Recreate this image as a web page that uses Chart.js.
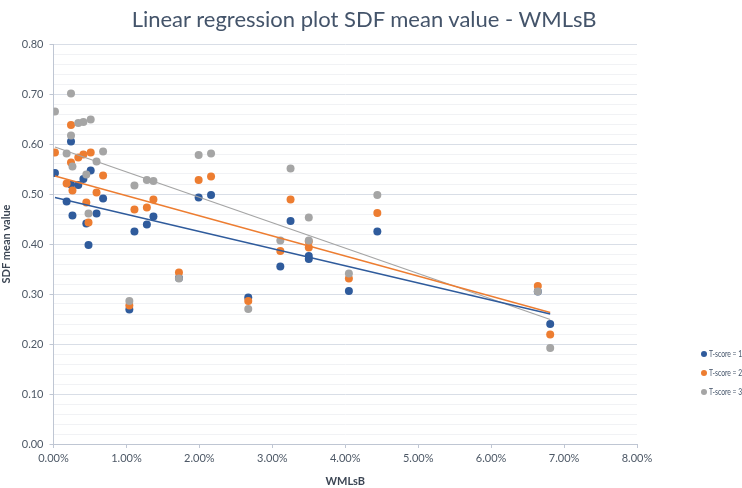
<!DOCTYPE html>
<html>
<head>
<meta charset="utf-8">
<script src="https://cdn.jsdelivr.net/npm/chart.js@4/dist/chart.umd.min.js"></script>
<style>
  html, body { margin: 0; padding: 0; background: #ffffff; overflow: hidden; }
  #wrap { position: relative; width: 742px; height: 488px; overflow: hidden; }
  #title { position: absolute; left: 0; width: 728px; top: 5px; text-align: center; font-family: Lato, "Open Sans", sans-serif; font-size: 22px; font-weight: 400; color: #44546a; white-space: nowrap; }
  #legend { position: absolute; left: 701px; top: 347px; font-family: Lato, "Open Sans", sans-serif; font-size: 9px; color: #44546a; width: 60px; }
  #legend div { height: 19px; line-height: 14px; white-space: nowrap; }
  #legend span.dot { display: inline-block; width: 6px; height: 6px; border-radius: 50%; margin-right: 2px; vertical-align: 0px; }
  #legend span.txt { display: inline-block; transform: scaleX(0.75); transform-origin: 0 50%; }
</style>
</head>
<body>
<div id="wrap">
  <canvas id="c" width="742" height="488"></canvas>
  <div id="title">Linear regression plot SDF mean value - WMLsB</div>
  <div id="legend"></div>
</div>
<script>
// WMLsB (%) for each observation
const wmlsb = [0.02, 0.18, 0.24, 0.24, 0.26, 0.34, 0.41, 0.45, 0.48, 0.51, 0.59, 0.68,
               1.04, 1.11, 1.28, 1.37, 1.72, 1.99, 2.16, 2.67, 3.11, 3.25, 3.50, 3.50,
               4.05, 4.44, 6.64, 6.81];
const tscore1 = [0.542, 0.485, 0.605, 0.519, 0.457, 0.518, 0.530, 0.441, 0.398, 0.547, 0.461, 0.491,
                 0.269, 0.425, 0.439, 0.455, 0.332, 0.493, 0.498, 0.293, 0.355, 0.446, 0.376, 0.370,
                 0.306, 0.425, 0.305, 0.240];
const tscore2 = [0.583, 0.521, 0.638, 0.563, 0.507, 0.573, 0.579, 0.483, 0.443, 0.583, 0.503, 0.537,
                 0.277, 0.469, 0.473, 0.489, 0.343, 0.528, 0.535, 0.286, 0.386, 0.489, 0.393, 0.405,
                 0.331, 0.462, 0.316, 0.219];
const tscore3 = [0.665, 0.581, 0.701, 0.617, 0.555, 0.642, 0.644, 0.539, 0.461, 0.649, 0.565, 0.585,
                 0.286, 0.517, 0.528, 0.526, 0.331, 0.578, 0.581, 0.270, 0.407, 0.551, 0.407, 0.453,
                 0.341, 0.498, 0.305, 0.192];
// trendline endpoints
const trendX = [0.02, 6.81];
const trend1 = [0.493, 0.260];
const trend2 = [0.536, 0.263];
const trend3 = [0.594, 0.249];
const seriesNames = ['T-score = 1', 'T-score = 2', 'T-score = 3'];
const yTicks = [0.0, 0.1, 0.2, 0.3, 0.4, 0.5, 0.6, 0.7, 0.8];
const xTicks = [0, 1, 2, 3, 4, 5, 6, 7, 8];

const colors = ['#2f5b9c', '#ed7d31', '#a5a5a5'];
const seriesVals = [tscore1, tscore2, tscore3];
const trends = [trend1, trend2, trend3];

const pts = vals => wmlsb.map((x, i) => ({x: x, y: vals[i]}));
const tr = vals => trendX.map((x, i) => ({x: x, y: vals[i]}));

const datasets = [];
for (let s = 0; s < 3; s++) {
  datasets.push({
    label: seriesNames[s],
    data: pts(seriesVals[s]),
    backgroundColor: colors[s],
    borderColor: colors[s],
    pointRadius: 4,
    pointBorderWidth: 0,
    showLine: false,
    order: 3 - s + 1
  });
}
for (let s = 0; s < 3; s++) {
  datasets.push({
    label: 'trend' + s,
    data: tr(trends[s]),
    type: 'line',
    borderColor: colors[s],
    borderWidth: 1.3,
    pointRadius: 0,
    fill: false,
    showLine: true,
    order: 0
  });
}

const isMajor = v => Math.abs(v * 10 - Math.round(v * 10)) < 1e-6;
const FONT = 'Lato, "Open Sans", sans-serif';

new Chart(document.getElementById('c'), {
  type: 'scatter',
  data: { datasets: datasets },
  options: {
    responsive: false,
    animation: false,
    layout: { padding: { left: 0, right: 105, top: 44, bottom: 0 } },
    plugins: {
      legend: { display: false },
      tooltip: { enabled: false },
      title: { display: false }
    },
    scales: {
      x: {
        type: 'linear',
        min: xTicks[0],
        max: xTicks[xTicks.length - 1],
        afterBuildTicks: s => { s.ticks = xTicks.map(v => ({value: v})); },
        afterFit: s => { s.height = 44; },
        ticks: {
          callback: v => v.toFixed(2) + '%',
          color: '#4d5866',
          font: { family: FONT, size: 11 },
          padding: 4,
          maxRotation: 0,
          autoSkip: false
        },
        grid: { drawOnChartArea: false, drawTicks: true, tickLength: 4, color: '#bfc6d3' },
        border: { display: true, color: '#bfc6d3' },
        title: {
          display: true,
          text: 'WMLsB',
          color: '#3c4654',
          font: { family: FONT, size: 11, weight: 'bold' },
          padding: { top: 2, bottom: 0 }
        }
      },
      y: {
        type: 'linear',
        min: 0,
        max: 0.8,
        afterBuildTicks: s => {
          const t = [];
          for (let i = 0; i <= 40; i++) t.push({value: Math.round(i * 2) / 100});
          s.ticks = t;
        },
        afterFit: s => { s.width = 53.5; },
        ticks: {
          callback: v => isMajor(v) ? v.toFixed(2) : '',
          color: '#4d5866',
          font: { family: FONT, size: 11 },
          padding: 6,
          autoSkip: false
        },
        grid: {
          color: ctx => isMajor(ctx.tick.value) ? '#d9dee7' : '#f1f2f5',
          tickColor: ctx => isMajor(ctx.tick.value) ? '#bfc6d3' : 'rgba(0,0,0,0)',
          tickLength: 4,
          lineWidth: 1
        },
        border: { display: true, color: '#bfc6d3' },
        title: {
          display: true,
          text: 'SDF mean value',
          color: '#3c4654',
          font: { family: FONT, size: 11, weight: 'bold' },
          padding: { top: 0, bottom: 0 }
        }
      }
    }
  }
});

const lg = document.getElementById('legend');
seriesNames.forEach((n, i) => {
  const d = document.createElement('div');
  d.innerHTML = '<span class="dot" style="background:' + colors[i] + '"></span><span class="txt">' + n + '</span>';
  lg.appendChild(d);
});
</script>
</body>
</html>
